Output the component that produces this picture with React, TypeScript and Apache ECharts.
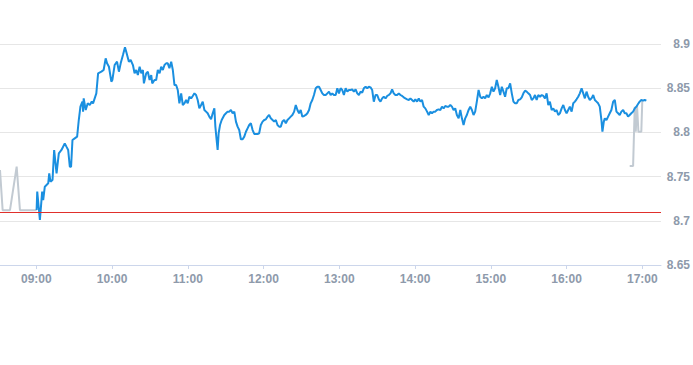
import React, { useEffect, useRef } from "react";
import * as echarts from "echarts";

// Time in minutes since midnight, prices in CNY
const sessionTimes: number[] = [
  540.2, 540.7, 542.8, 544.6, 545.4, 546.7, 549.4, 550.2, 551.2, 552.8, 554.1, 556.0, 557.8, 559.9, 562.5, 563.8, 565.2, 566.5, 567.5, 568.6,
  570.4, 572.3, 573.6, 574.9, 576.5, 577.0, 577.5, 579.1, 580.7, 582.3, 583.9, 584.9, 587.5, 588.9, 591.5, 593.3, 594.9, 596.0, 597.5, 599.4,
  600.2, 602.0, 603.9, 605.4, 606.8, 608.6, 610.2, 611.2, 613.3, 614.7, 616.5, 617.8, 619.1, 620.4, 621.8, 623.1, 624.4, 625.2, 627.0, 628.3,
  629.7, 631.0, 631.8, 633.6, 634.9, 636.2, 637.6, 638.9, 640.2, 641.5, 642.8, 644.1, 645.4, 646.8, 648.1, 649.4, 650.7, 652.0, 653.3, 654.7,
  656.0, 657.3, 658.6, 659.9, 661.2, 662.6, 663.9, 665.2, 666.5, 667.8, 669.1, 670.5, 671.8, 673.1, 674.4, 675.7, 677.0, 678.4, 679.7, 681.0,
  681.8, 682.8, 683.6, 684.4, 685.5, 686.8, 688.9, 690.2, 691.5, 692.8, 694.1, 695.5, 696.8, 698.1, 699.4, 700.7, 702.0, 703.4, 704.7, 706.0,
  707.3, 708.6, 709.9, 711.3, 712.6, 713.9, 715.2, 716.5, 717.8, 719.2, 720.5, 721.8, 723.1, 724.4, 725.7, 727.1, 728.4, 729.7, 731.0, 732.3,
  733.6, 734.9, 736.3, 737.6, 738.9, 740.2, 741.5, 742.8, 744.2, 745.5, 746.8, 748.1, 749.4, 750.7, 752.1, 753.4, 754.7, 756.0, 757.3, 758.6,
  759.9, 761.3, 762.6, 763.9, 765.2, 766.5, 767.8, 769.2, 770.5, 771.8, 773.1, 774.4, 775.7, 777.1, 778.4, 779.7, 781.0, 782.3, 783.6, 785.0,
  786.3, 787.6, 788.9, 790.2, 791.5, 792.9, 794.2, 795.5, 796.8, 798.1, 799.4, 800.8, 802.1, 803.4, 804.7, 806.0, 807.3, 808.7, 810.0, 811.3,
  812.6, 813.9, 815.2, 816.6, 817.9, 819.2, 820.5, 821.8, 823.1, 824.4, 825.8, 827.1, 828.4, 829.7, 831.0, 832.3, 833.7, 835.0, 836.3, 837.6,
  838.9, 840.2, 841.6, 842.9, 844.2, 845.5, 846.8, 848.1, 849.5, 850.8, 852.1, 853.4, 854.7, 856.0, 857.3, 858.7, 860.0, 861.3, 862.6, 863.9,
  865.2, 866.6, 867.9, 869.2, 870.5, 871.8, 873.1, 874.5, 875.8, 877.1, 878.4, 879.7, 881.0, 882.4, 883.7, 885.0, 886.3, 887.6, 888.9, 890.3,
  891.6, 892.9, 894.2, 895.5, 896.8, 898.2, 899.5, 900.8, 902.1, 903.4, 904.7, 906.0, 907.4, 908.7, 910.0, 911.3, 912.6, 913.9, 915.3, 916.6,
  917.9, 919.2, 920.5, 921.8, 923.2, 924.5, 925.8, 927.1, 928.4, 929.7, 931.1, 932.4, 933.7, 935.0, 936.3, 937.6, 939.0, 940.3, 941.6, 942.9,
  944.2, 945.5, 946.8, 948.2, 949.5, 950.8, 952.1, 953.4, 954.7, 956.1, 957.4, 958.7, 960.0, 961.3, 962.6, 964.0, 965.3, 966.6, 967.9, 969.2,
  970.5, 971.9, 973.2, 974.5, 975.8, 977.1, 978.4, 979.8, 981.1, 982.4, 983.7, 985.0, 986.3, 987.6, 988.4, 989.5, 990.3, 991.6, 992.9, 994.2,
  995.5, 996.9, 998.2, 999.5, 1000.8, 1002.1, 1003.4, 1004.8, 1006.1, 1007.4, 1008.7, 1010.0, 1011.3, 1012.7, 1014.0, 1015.3, 1016.6, 1017.9, 1019.2, 1020.6,
  1021.9, 1023.2,
];

const sessionPrices: number[] = [
  8.7122, 8.733, 8.7009, 8.733, 8.7235, 8.7386, 8.7424, 8.7537, 8.7443, 8.7462, 8.7801, 8.7537, 8.7763, 8.7801, 8.7876, 8.7839, 8.7801, 8.7612, 8.7612, 8.7914,
  8.7933, 8.7952, 8.814, 8.8291, 8.8348, 8.8234, 8.8385, 8.8253, 8.8329, 8.831, 8.8348, 8.8329, 8.8442, 8.8668, 8.8687, 8.8706, 8.8838, 8.8781, 8.8743, 8.8574,
  8.8593, 8.8762, 8.88, 8.8687, 8.8781, 8.8875, 8.8962, 8.8913, 8.88, 8.8819, 8.8762, 8.8668, 8.8706, 8.8649, 8.8743, 8.8668, 8.8706, 8.8555, 8.8668, 8.8687,
  8.8593, 8.8649, 8.8555, 8.8593, 8.8593, 8.8706, 8.8668, 8.8743, 8.8706, 8.8762, 8.8781, 8.8781, 8.8725, 8.88, 8.8706, 8.8536, 8.8536, 8.848, 8.8329, 8.8442,
  8.831, 8.8329, 8.8367, 8.8329, 8.8404, 8.8385, 8.8412, 8.8442, 8.8423, 8.8367, 8.8272, 8.831, 8.8348, 8.8254, 8.8235, 8.8216, 8.8178, 8.8148, 8.8216, 8.8272,
  8.8065, 8.7914, 8.7801, 8.799, 8.8084, 8.814, 8.8197, 8.8216, 8.8235, 8.8235, 8.8254, 8.8216, 8.8235, 8.8122, 8.8065, 8.8027, 8.7922, 8.7922, 8.7952, 8.8008,
  8.8046, 8.8084, 8.8103, 8.8027, 8.7982, 8.7982, 8.7982, 8.799, 8.8084, 8.8122, 8.814, 8.8148, 8.8178, 8.8197, 8.8159, 8.814, 8.8122, 8.814, 8.8084, 8.8065,
  8.8065, 8.8122, 8.814, 8.8103, 8.814, 8.8159, 8.8178, 8.8197, 8.8235, 8.831, 8.8254, 8.8216, 8.8254, 8.8178, 8.8186, 8.8197, 8.8216, 8.8254, 8.8329, 8.8367,
  8.8423, 8.8499, 8.8517, 8.8517, 8.848, 8.8442, 8.8423, 8.8423, 8.8442, 8.8461, 8.8423, 8.8442, 8.8423, 8.8423, 8.8499, 8.8442, 8.8499, 8.848, 8.8423, 8.8499,
  8.8461, 8.848, 8.848, 8.8487, 8.8461, 8.8487, 8.8442, 8.8423, 8.8461, 8.845, 8.8499, 8.8517, 8.8499, 8.8517, 8.851, 8.848, 8.8348, 8.8423, 8.8423, 8.8374,
  8.8348, 8.8385, 8.8404, 8.8385, 8.8412, 8.8423, 8.8442, 8.8487, 8.8442, 8.8423, 8.8423, 8.8442, 8.8423, 8.8412, 8.8397, 8.8385, 8.8374, 8.8367, 8.8385, 8.8367,
  8.8348, 8.8374, 8.8348, 8.8385, 8.8348, 8.8367, 8.8291, 8.8272, 8.8235, 8.8197, 8.8235, 8.8216, 8.8235, 8.8235, 8.8254, 8.8261, 8.8254, 8.8291, 8.8272, 8.8299,
  8.8291, 8.8291, 8.831, 8.8291, 8.8254, 8.8272, 8.8197, 8.8159, 8.8254, 8.8159, 8.8084, 8.8159, 8.8197, 8.8254, 8.8291, 8.8254, 8.8197, 8.8235, 8.8348, 8.848,
  8.8404, 8.8385, 8.8404, 8.8385, 8.8423, 8.8397, 8.8442, 8.8517, 8.8461, 8.8499, 8.8593, 8.8517, 8.8423, 8.8517, 8.8461, 8.8404, 8.8499, 8.8499, 8.8555, 8.8442,
  8.8348, 8.8329, 8.8329, 8.8367, 8.8374, 8.8397, 8.8442, 8.8472, 8.8461, 8.8442, 8.8423, 8.8367, 8.8385, 8.8423, 8.8367, 8.8423, 8.8404, 8.8423, 8.8412, 8.8385,
  8.8442, 8.831, 8.8348, 8.8254, 8.8272, 8.8235, 8.8254, 8.8197, 8.8216, 8.8272, 8.831, 8.8254, 8.8216, 8.8254, 8.8291, 8.8235, 8.8329, 8.8348, 8.8374, 8.8404,
  8.8442, 8.8499, 8.8442, 8.8385, 8.8461, 8.8404, 8.8367, 8.8385, 8.8423, 8.8367, 8.8348, 8.8329, 8.8291, 8.814, 8.8008, 8.8122, 8.8159, 8.814, 8.8178, 8.8216,
  8.8254, 8.8348, 8.8367, 8.8235, 8.8216, 8.8197, 8.8235, 8.8254, 8.8216, 8.8216, 8.8178, 8.8197, 8.8216, 8.8235, 8.8272, 8.8291, 8.8321, 8.8348, 8.8367, 8.8359,
  8.8367, 8.8359,
];

const preTimes: number[] = [511.2, 513.3, 519.1, 524.4, 527.0, 540.2];
const prePrices: number[] = [8.7575, 8.712, 8.712, 8.7612, 8.712, 8.712];

const postTimes: number[] = [1010.0, 1012.7, 1014.0, 1014.8, 1015.8, 1016.9, 1019.2, 1020.0];
const postPrices: number[] = [8.762, 8.762, 8.8291, 8.8008, 8.831, 8.8008, 8.8008, 8.8367];

const prevClose = 8.7122;
const hourTicks: number[] = [540, 600, 660, 720, 780, 840, 900, 960, 1020];

const fmt = (m: number) => {
  const h = Math.floor(m / 60);
  const mm = Math.round(m - h * 60);
  return String(h).padStart(2, "0") + ":" + String(mm).padStart(2, "0");
};

const zip = (t: number[], v: number[]) => t.map((x, i) => [x, v[i]]);

export default function App() {
  const ref = useRef<HTMLDivElement>(null);
  useEffect(() => {
    if (!ref.current) return;
    const chart = echarts.init(ref.current, undefined, { renderer: "svg" });
    const labelStyle = {
      color: "#8e9aab",
      fontSize: 12,
      fontWeight: "bold" as const,
      fontFamily: "Liberation Sans, Arial, sans-serif",
    };
    chart.setOption({
      animation: false,
      grid: { left: 0, right: 30, top: 44, bottom: 100, containLabel: false },
      xAxis: {
        type: "value",
        min: 511.2,
        max: 1034.8,
        axisLine: { show: true, lineStyle: { color: "#ccd6eb", width: 1 } },
        axisTick: { show: true, length: 4, lineStyle: { color: "#ccd6eb" }, customValues: hourTicks },
        axisLabel: { ...labelStyle, margin: 8, customValues: hourTicks, formatter: (v: number) => fmt(v) },
        splitLine: { show: false },
      },
      yAxis: {
        type: "value",
        position: "right",
        min: 8.65,
        max: 8.9,
        interval: 0.05,
        axisLine: { show: false },
        axisTick: { show: false },
        axisLabel: { ...labelStyle, align: "right", margin: 29 },
        splitLine: { show: true, lineStyle: { color: "#e6e6e6", width: 1 } },
      },
      series: [
        {
          type: "line",
          data: [],
          markLine: {
            silent: true,
            symbol: "none",
            label: { show: false },
            lineStyle: { color: "#e0302c", width: 1, type: "solid" },
            data: [{ yAxis: prevClose }],
          },
        },
        {
          type: "line",
          data: zip(preTimes, prePrices),
          showSymbol: false,
          clip: false,
          lineStyle: { color: "#c2cad2", width: 2 },
        },
        {
          type: "line",
          data: zip(postTimes, postPrices),
          showSymbol: false,
          lineStyle: { color: "#c2cad2", width: 2 },
        },
        {
          type: "line",
          data: zip(sessionTimes, sessionPrices),
          showSymbol: false,
          lineStyle: { color: "#1a8fe0", width: 2 },
        },
      ],
    });
    return () => chart.dispose();
  }, []);
  return (
    <div
      ref={ref}
      style={{ position: "fixed", left: 0, top: 0, width: 693, height: 365, background: "#fff" }}
    />
  );
}
